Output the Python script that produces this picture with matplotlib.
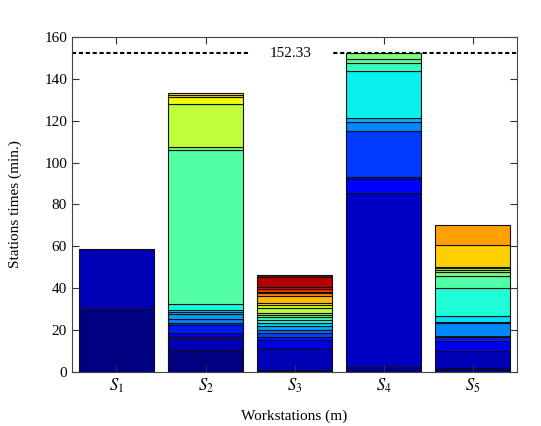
import matplotlib
matplotlib.use("Agg")
import matplotlib.pyplot as plt
import numpy as np

# task times stacked per workstation (bottom to top), minutes
stations = ["$S_1$", "$S_2$", "$S_3$", "$S_4$", "$S_5$"]
s1_times = [30.2, 28.4]
s2_times = [10.5, 5.1, 1.0, 2.2, 3.6, 0.8, 2.1, 2.2, 1.3, 0.8, 2.9,
            73.5, 1.6, 20.2, 3.7, 0.8, 1.1]
s3_times = [0.8, 10.5, 4.0, 1.6, 1.6, 1.6, 1.6, 1.5, 1.6, 1.3, 1.1,
            0.8, 2.4, 1.6, 0.8, 3.5, 1.3, 0.8, 1.1, 0.9, 5.1, 1.0]
s4_times = [2.5, 82.8, 6.7, 1.3, 21.8, 4.4, 1.6, 22.8, 3.5, 2.1, 2.83]
s5_times = [1.8, 8.4, 4.7, 1.7, 0.7, 5.9, 0.8, 2.7, 13.3, 5.8, 2.1,
            0.8, 0.8, 0.8, 10.3, 9.6]
cycle_time = 152.33

# jet colormap positions for each segment (style, kept apart from the data)
s1_levels = [0.0, 0.05]
s2_levels = [0.0, 0.05, 0.08, 0.1, 0.15, 0.17, 0.25, 0.28, 0.3, 0.32, 0.38,
             0.45, 0.5, 0.58, 0.64, 0.66, 0.67]
s3_levels = list(np.linspace(0, 1, len(s3_times)))
s4_levels = [0.0, 0.06, 0.11, 0.12, 0.18, 0.26, 0.3, 0.36, 0.42, 0.46, 0.5]
s5_levels = [0.0, 0.05, 0.1, 0.15, 0.2, 0.26, 0.3, 0.34, 0.39, 0.45, 0.5,
             0.55, 0.57, 0.6, 0.69, 0.74]

plt.rcParams["font.family"] = ["Liberation Serif", "DejaVu Serif"]
plt.rcParams["mathtext.fontset"] = "stix"

fig = plt.figure(figsize=(5.41, 4.26), dpi=100)
ax = fig.add_axes([0.133, 0.127, 0.823, 0.786])

jet = plt.get_cmap("jet")
all_times = [s1_times, s2_times, s3_times, s4_times, s5_times]
all_levels = [s1_levels, s2_levels, s3_levels, s4_levels, s5_levels]
x = np.arange(1, len(stations) + 1)
for xi, times, levels in zip(x, all_times, all_levels):
    bottom = 0.0
    for t, lv in zip(times, levels):
        ax.bar(xi, t, 0.84, bottom=bottom, color=jet(lv),
               edgecolor="#111111", linewidth=0.8, zorder=1)
        bottom += t

ax.axhline(cycle_time, color="k", ls="--", dashes=(2, 1.3), lw=1.5, zorder=2)
ax.text(2.95, cycle_time, f"{cycle_time:.2f}", ha="center", va="center",
        fontsize=11, zorder=2.1,
        bbox=dict(boxstyle="square,pad=1.3", fc="white", ec="none"))

ax.set_xlim(0.5, 5.5)
ax.set_ylim(0, 160)
ax.set_yticks(np.arange(0, 161, 20))
ax.set_xticks(x)
ax.set_xticklabels(stations, fontsize=12)
ax.tick_params(axis="y", labelsize=11)
ax.tick_params(direction="in", top=True, right=True, length=5, color="#333333")
for sp in ax.spines.values():
    sp.set_color("#444444")
    sp.set_zorder(2.5)
ax.set_xlabel("Workstations (m)", fontsize=11, labelpad=10)
ax.set_ylabel("Stations times (min.)", fontsize=11, labelpad=16)

fig.savefig("out.png", dpi=100)
